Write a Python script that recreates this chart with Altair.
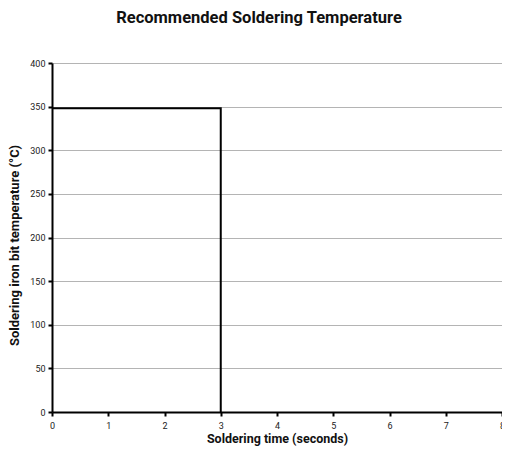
import altair as alt
import pandas as pd

time_s = [0, 3, 3]
temp_c = [348, 348, 0]
order = [0, 1, 2]

df = pd.DataFrame({"t": time_s, "temp": temp_c, "o": order})

FONT = "Roboto"

chart = alt.Chart(df).mark_line(color="black", strokeWidth=2, clip=True).encode(
    x=alt.X("t:Q", title="Soldering time (seconds)",
            scale=alt.Scale(domain=[0, 8], nice=False),
            axis=alt.Axis(values=[0, 1, 2, 3, 4, 5, 6, 7, 8], grid=False,
                          domainColor="black", domainWidth=2,
                          tickColor="black", tickWidth=2, tickSize=4, tickOffset=0,
                          labelFontSize=9, labelColor="#222", labelFont=FONT,
                          labelPadding=5, labelFlush=False,
                          titleFont=FONT, titleFontSize=12.5, titleFontWeight="bold",
                          titleColor="#111", titleY=26, titleBaseline="middle")),
    y=alt.Y("temp:Q", title="Soldering iron bit temperature (°C)",
            scale=alt.Scale(domain=[0, 400], nice=False),
            axis=alt.Axis(values=[0, 50, 100, 150, 200, 250, 300, 350, 400],
                          grid=True, gridColor="#b4b4b4", gridWidth=1,
                          domainColor="black", domainWidth=2,
                          tickColor="black", tickWidth=2, tickSize=4,
                          labelFontSize=9, labelColor="#222", labelFont=FONT,
                          labelPadding=3,
                          titleFont=FONT, titleFontSize=13, titleFontWeight="bold",
                          titleColor="#111", titleX=-38, titleY=182,
                          titleBaseline="middle")),
    order="o:O",
).properties(
    width=450,
    height=349,
    title=alt.TitleParams("Recommended Soldering Temperature", font=FONT,
                          fontSize=16.5, fontWeight="bold", color="#111",
                          anchor="middle", offset=33, dx=-18),
    autosize=alt.AutoSizeParams(type="none"),
    padding={"left": 44, "top": 55, "right": 0, "bottom": 35},
).configure_view(stroke=None)

chart.save("out.html", embed_options={"renderer": "svg", "actions": False})
